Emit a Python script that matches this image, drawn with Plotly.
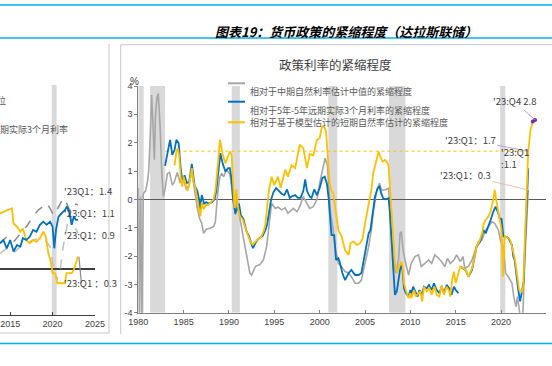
import plotly.graph_objects as go

W, H = 552, 366
def PX(x): return x / W
def PY(y): return 1 - y / H

# ---------------- right chart data ----------------
gray_year = [1980.0,1980.12,1980.25,1980.4,1980.55,1980.8,1981.0,1981.15,1981.3,1981.47,1981.6,1981.77,1981.9,1982.06,1982.2,1982.4,1982.6,1982.76,1982.95,1983.2,1983.45,1983.75,1983.95,1984.3,1984.6,1985.0,1985.3,1985.6,1985.9,1986.2,1986.5,1986.75,1987.0,1987.2,1987.5,1987.9,1988.3,1988.5,1988.75,1989.0,1989.2,1989.4,1989.7,1990.1,1990.5,1990.7,1990.85,1991.2,1991.6,1991.95,1992.3,1992.5,1992.9,1993.4,1993.8,1994.15,1994.5,1994.7,1995.1,1995.4,1995.8,1996.2,1996.5,1997.1,1997.5,1997.8,1998.2,1998.6,1998.9,1999.3,1999.7,2000.0,2000.3,2000.6,2000.85,2001.0,2001.2,2001.45,2001.7,2002.06,2002.4,2002.8,2003.2,2003.5,2003.9,2004.3,2004.6,2005.0,2005.4,2005.7,2005.9,2006.3,2006.6,2006.8,2007.2,2007.6,2007.75,2007.9,2008.1,2008.4,2008.7,2008.86,2009.0,2009.2,2009.4,2009.8,2010.1,2010.5,2010.9,2011.2,2011.6,2012.0,2012.35,2012.7,2013.1,2013.45,2013.8,2014.1,2014.4,2014.8,2015.1,2015.5,2015.8,2016.0,2016.4,2016.8,2017.1,2017.5,2017.9,2018.2,2018.6,2019.0,2019.3,2019.7,2019.96,2020.25,2020.5,2020.8,2021.2,2021.4,2021.65,2021.8,2022.1,2022.4,2022.6,2022.85,2023.0]
gray_val = [0.4,-4.1,0.1,-4.1,0.2,0.3,0.6,1.0,2.1,3.68,2.8,1.4,3.0,3.6,3.74,2.6,0.9,0.1,0.35,0.9,0.95,0.5,0.6,0.95,0.6,0.7,0.35,0.5,1.0,0.3,-0.3,-0.67,-0.85,-1.2,-1.05,-1.02,-0.96,-0.8,0.2,0.8,0.92,0.8,1.04,0.9,0.0,-0.55,-0.05,-0.67,-1.3,-1.9,-2.6,-2.67,-2.37,-2.3,-2.14,-1.67,-0.73,-0.14,-0.32,-0.27,-0.37,-0.3,-0.49,-0.32,-0.44,-0.26,0.1,-0.14,-0.32,-0.26,0.0,0.57,1.04,1.45,1.2,0.4,-0.5,-1.0,-1.67,-2.26,-2.37,-2.55,-2.6,-2.73,-2.96,-2.96,-2.85,-2.26,-1.67,-1.08,-0.49,0.33,0.57,0.33,0.33,0.39,-0.5,-1.2,-2.02,-2.6,-2.14,-1.2,-1.14,-1.8,-2.14,-2.67,-2.26,-2.02,-1.96,-2.37,-2.26,-2.14,-2.26,-1.96,-2.08,-2.2,-2.37,-2.08,-2.26,-2.14,-1.96,-2.2,-2.02,-2.43,-2.37,-2.14,-1.85,-1.49,-1.43,-1.14,-0.96,-0.79,-0.85,-1.08,-1.49,-1.67,-2.6,-2.73,-2.96,-3.43,-3.79,-3.43,-4.1,-4.1,-2.26,-0.85,0.33]

blue_year = [1982.95,1983.2,1983.5,1983.75,1984.0,1984.2,1984.45,1984.7,1984.9,1985.1,1985.35,1985.6,1985.9,1986.2,1986.5,1986.7,1986.8,1987.0,1987.25,1987.5,1987.8,1988.1,1988.4,1988.6,1988.75,1988.9,1989.05,1989.3,1989.6,1989.9,1990.1,1990.3,1990.45,1990.7,1990.9,1991.1,1991.3,1991.6,1991.9,1992.2,1992.4,1992.65,1992.9,1993.1,1993.4,1993.7,1994.0,1994.2,1994.45,1994.65,1994.9,1995.2,1995.5,1995.8,1996.1,1996.4,1996.7,1996.9,1997.3,1997.6,1997.9,1998.2,1998.4,1998.6,1998.9,1999.1,1999.4,1999.7,2000.0,2000.3,2000.55,2000.8,2001.0,2001.15,2001.3,2001.6,2001.8,2002.06,2002.2,2002.5,2002.8,2003.2,2003.5,2003.9,2004.3,2004.6,2004.8,2005.1,2005.4,2005.6,2005.85,2006.1,2006.4,2006.6,2006.8,2007.0,2007.3,2007.6,2007.75,2007.9,2008.1,2008.3,2008.5,2008.75,2008.97,2009.15,2009.3,2009.5,2009.8,2010.0,2010.1,2010.3,2010.6,2010.8,2011.0,2011.25,2011.5,2011.8,2012.05,2012.35,2012.6,2012.9,2013.2,2013.45,2013.7,2014.0,2014.3,2014.55,2014.8,2015.0,2015.3,None,2015.5,2015.85,2016.1,2016.4,2016.8,2017.1,2017.3,2017.7,2018.05,2018.3,2018.6,2018.85,2019.15,2019.4,2019.7,2019.9,2020.05,2020.25,2020.6,2020.8,2021.2,2021.35,2021.5,2021.7,2021.9,2022.1,2022.3,2022.5,2022.65,2022.8,2023.0]
blue_val = [1.18,1.63,2.1,1.57,1.75,2.1,1.98,1.0,0.6,0.85,0.58,0.6,1.25,0.5,0.3,0.0,-0.35,0.15,-0.15,-0.1,-0.15,-0.1,0.0,0.3,0.8,1.3,1.63,1.27,0.98,1.1,1.1,0.7,0.0,-0.5,-0.3,-0.15,-0.55,-0.7,-1.1,-1.3,-1.5,-1.72,-1.55,-1.45,-1.35,-1.3,-1.1,-0.9,-0.4,0.0,0.25,0.4,0.3,0.2,0.15,0.35,0.05,0.1,0.15,0.05,0.05,0.3,0.7,0.3,0.1,0.05,0.35,0.15,0.4,0.75,0.8,0.55,0.0,-0.73,-1.26,-1.26,-2.14,-2.08,-2.2,-2.6,-2.85,-2.6,-2.49,-2.67,-2.67,-2.6,-2.26,-1.67,-1.2,-1.08,-0.49,0.1,0.39,0.45,0.2,0.04,0.0,0.04,-0.5,-1.43,-2.37,-3.37,-3.25,-2.73,-2.26,-2.55,-3.14,-3.31,-3.43,-3.2,-3.37,-3.08,-3.31,-3.43,-3.2,-3.37,-3.08,-3.14,-3.02,-3.2,-2.96,-3.2,-3.31,-3.08,-3.31,-3.02,-3.14,-3.37,-3.08,-3.2,-3.31,None,-2.37,-2.45,-2.5,-2.73,-2.49,-2.0,-1.67,-1.49,-1.08,-1.2,-0.96,-0.73,-0.43,-0.26,-0.49,-0.73,-0.67,-1.3,-1.32,-1.37,-1.61,-2.02,-2.14,-2.73,-3.2,-3.6,-3.2,-2.9,-1.5,-0.4,1.1]

yellow_year = [1984.0,1984.2,1984.35,1984.5,1984.7,1984.85,1985.0,1985.2,1985.4,1985.6,1985.9,1986.1,1986.3,1986.5,1986.7,1986.85,1987.0,1987.2,1987.45,1987.7,1988.0,1988.3,1988.5,1988.7,1988.85,1989.0,1989.3,1989.6,1989.9,1990.1,1990.3,1990.45,1990.6,1990.8,1991.0,1991.2,1991.5,1991.8,1992.1,1992.35,1992.6,1992.9,1993.2,1993.5,1993.8,1994.0,1994.2,1994.4,1994.7,1995.0,1995.4,1995.7,1996.2,1996.5,1996.9,1997.3,1997.8,1998.2,1998.6,1998.9,1999.3,1999.7,2000.0,2000.2,2000.4,2000.7,2000.9,2001.1,2001.3,2001.5,2001.7,2002.06,2002.4,2002.8,2003.2,2003.4,2003.7,2004.1,2004.45,2004.75,2005.0,2005.3,2005.55,2005.7,2005.9,2006.3,2006.5,2006.7,2006.95,2007.2,2007.5,2007.6,2007.75,2007.9,2008.1,2008.3,2008.5,2008.75,2009.0,2009.15,2009.3,2009.5,2009.8,2010.0,2010.1,2010.4,2010.6,2010.9,2011.1,2011.3,2011.5,2011.8,2012.1,2012.35,2012.65,2012.9,2013.2,2013.45,2013.7,2014.0,2014.3,2014.4,2014.6,2014.8,2015.0,2015.3,2015.5,2015.85,2016.1,2016.4,2016.8,2017.0,2017.3,2017.6,2017.9,2018.1,2018.3,2018.6,2018.85,2019.15,2019.3,2019.5,2019.7,2019.9,2020.05,2020.2,2020.4,2020.8,2021.0,2021.3,2021.55,2021.8,2022.0,2022.3,2022.45,2022.6,2022.8,2023.0,2023.25,2023.5,2023.75]
yellow_val = [1.2,1.7,1.8,1.55,0.7,0.45,0.8,0.55,0.3,0.5,1.1,0.6,0.4,0.0,-0.3,-0.6,-0.1,-0.35,-0.2,-0.2,-0.1,0.0,0.3,0.9,1.5,2.1,1.6,1.27,1.57,1.69,1.55,0.6,-0.3,0.35,-0.3,-0.6,-0.7,-1.0,-1.3,-1.5,-1.6,-1.5,-1.4,-1.35,-1.15,-0.9,-0.4,0.3,0.8,0.5,0.8,0.4,1.05,0.8,1.2,1.1,1.93,1.8,1.1,1.6,1.55,2.1,2.16,2.5,2.6,2.4,1.5,0.57,0.3,0.2,-0.26,-1.08,-1.3,-1.79,-1.96,-1.55,-1.49,-1.61,-1.55,-1.37,-0.85,-0.37,0.0,0.33,0.92,1.5,1.69,1.5,1.33,1.39,1.28,1.16,0.33,-0.5,-1.43,-2.26,-2.6,-2.37,-2.2,-2.37,-2.96,-3.2,-3.49,-3.31,-3.49,-3.2,-3.43,-3.31,-3.25,-3.61,-3.08,-3.25,-3.14,-3.37,-3.08,-3.37,-3.43,-3.02,-3.37,-3.08,-3.25,-3.43,-2.85,-2.55,-2.96,-2.6,-2.37,-2.43,-2.49,-2.73,-2.43,-2.14,-1.67,-1.49,-1.2,-0.85,-0.73,-0.61,-0.43,0.0,0.33,-0.08,-0.43,-0.73,-1.08,-2.73,-1.3,-1.37,-1.43,-1.79,-2.14,-2.73,-3.2,-3.26,-3.08,-1.67,-0.26,1.7,2.45,2.75,2.8]

recessions = [(1980.0, 1980.6), (1981.3, 1982.95), (1990.3, 1991.2),
              (2000.95, 2001.95), (2007.65, 2009.45), (2019.9, 2020.47)]
ref_level = 1.7
x_ticks = [1980, 1985, 1990, 1995, 2000, 2005, 2010, 2015, 2020, 2025]
y_ticks = [4, 3, 2, 1, 0, -1, -2, -3, -4]

series_names = ["相对于中期自然利率估计中值的紧缩程度",
                "相对于5年-5年远期实际3个月利率的紧缩程度",
                "相对于基于模型估计的短期自然率估计的紧缩程度"]

# ---------------- left (cropped) chart data ----------------
l_year = [2013.8,2014.2,2014.6,2015.0,2015.4,2015.8,2016.2,2016.5,2016.9,2017.3,2017.7,2018.1,2018.5,2018.9,2019.3,2019.7,2020.0,2020.2,2020.4,2020.7,2021.05,2021.45,2021.7,2022.0,2022.25,2022.5,2022.75,2023.0]
l_blue = [0.56,0.63,0.45,0.63,0.38,0.52,0.49,0.67,0.63,0.7,0.85,0.81,0.96,1.03,0.96,1.03,0.92,0.45,0.85,1.14,1.21,1.28,1.36,1.21,0.96,1.14,1.07,1.07]
ly_year = [2013.8,2014.6,2015.2,2015.4,2015.8,2016.2,2016.5,2016.9,2017.3,2017.7,2018.1,2018.5,2018.9,2019.2,2019.5,2019.8,2020.0,2020.3,2020.55,2020.86,2021.45,2021.65,2022.25,2022.5,2022.75,2023.0]
l_yellow = [1.21,1.28,1.32,0.99,0.92,0.81,0.88,0.63,0.56,0.63,0.59,0.67,0.81,0.7,0.34,0.16,-0.09,-0.09,-0.31,-0.31,-0.31,-0.09,-0.09,-0.02,0.12,0.27]
lg_year = [2013.8,2014.6,2015.4,2016.2,2016.9,2017.7,2018.3,2018.9,2019.3,2019.7,2020.1,2020.5,2020.9,2021.25,2021.65,2022.0,2022.4,2023.0]
l_gray_hi = [0.56,0.7,0.59,0.78,0.92,1.14,1.28,1.36,1.43,1.32,1.17,1.28,1.43,1.54,1.43,1.28,1.43,1.39]
lg2_year = [2013.8,2014.6,2015.4,2016.2,2016.9,2017.7,2018.5,2019.1,2019.7,2020.1,2020.5,2020.9,2021.25,2021.65,2022.0,2022.4,2023.0]
l_gray_lo = [0.34,0.45,0.34,0.49,0.56,0.63,0.67,0.63,0.49,0.05,-0.24,-0.02,0.49,0.92,1.21,0.99,0.78]
lgs_year = [2023.1, 2023.4]
l_gray_solid = [0.27, -0.31]
l_recession = (2019.9, 2020.47)
l_ticks = [2015, 2020, 2025]

C_GRAY, C_BLUE, C_YEL = "#a6a6a6", "#0070c0", "#ffc000"
CJK = "Noto Sans CJK SC"
LAT = "Liberation Sans"

fig = go.Figure()
fig.add_trace(go.Scatter(x=gray_year, y=gray_val, mode="lines", name=series_names[0],
                         line=dict(color=C_GRAY, width=1.6), xaxis="x", yaxis="y"))
fig.add_trace(go.Scatter(x=blue_year, y=blue_val, mode="lines", name=series_names[1],
                         line=dict(color=C_BLUE, width=1.8), connectgaps=False, xaxis="x", yaxis="y"))
fig.add_trace(go.Scatter(x=yellow_year, y=yellow_val, mode="lines", name=series_names[2],
                         line=dict(color=C_YEL, width=1.8), xaxis="x", yaxis="y"))
fig.add_trace(go.Scatter(x=yellow_year[-2:], y=yellow_val[-2:], mode="markers",
                         marker=dict(color="#7030a0", size=4), xaxis="x", yaxis="y"))

# left chart
fig.add_trace(go.Scatter(x=lg2_year, y=l_gray_lo, mode="lines",
                         line=dict(color="#bfbfbf", width=1.5, dash="dash"), xaxis="x2", yaxis="y2"))
fig.add_trace(go.Scatter(x=lg_year, y=l_gray_hi, mode="lines",
                         line=dict(color="#8c8c8c", width=1.5, dash="dash"), xaxis="x2", yaxis="y2"))
fig.add_trace(go.Scatter(x=lgs_year, y=l_gray_solid, mode="lines",
                         line=dict(color="#8c8c8c", width=1.2), xaxis="x2", yaxis="y2"))
fig.add_trace(go.Scatter(x=ly_year, y=l_yellow, mode="lines",
                         line=dict(color=C_YEL, width=1.8), xaxis="x2", yaxis="y2"))
fig.add_trace(go.Scatter(x=l_year, y=l_blue, mode="lines",
                         line=dict(color=C_BLUE, width=1.8), xaxis="x2", yaxis="y2"))

shapes = []
for a, b in recessions:
    shapes.append(dict(type="rect", xref="x", yref="y", x0=a, x1=b, y0=-4, y1=4,
                       fillcolor="#d9d9d9", line=dict(width=0), layer="below"))
shapes.append(dict(type="rect", xref="x2", yref="y2", x0=l_recession[0], x1=l_recession[1],
                   y0=-1, y1=4, fillcolor="#d9d9d9", line=dict(width=0), layer="below"))
shapes.append(dict(type="line", xref="x", yref="y", x0=1983, x1=2023, y0=ref_level, y1=ref_level,
                   line=dict(color="#ffc000", width=1, dash="dot"), layer="below"))
# frames
LB = "#00b0f0"
shapes += [
    dict(type="line", xref="paper", yref="paper", x0=0, x1=1, y0=PY(5), y1=PY(5), line=dict(color=LB, width=1.5)),
    dict(type="line", xref="paper", yref="paper", x0=0, x1=1, y0=PY(38), y1=PY(38), line=dict(color=LB, width=1.5)),
    dict(type="line", xref="paper", yref="paper", x0=0, x1=1, y0=PY(343.5), y1=PY(343.5), line=dict(color=LB, width=1.5)),
    dict(type="line", xref="paper", yref="paper", x0=PX(120.7), x1=1, y0=PY(44.7), y1=PY(44.7), line=dict(color="#c8c8c8", width=1)),
    dict(type="line", xref="paper", yref="paper", x0=PX(120.7), x1=PX(120.7), y0=PY(44.7), y1=PY(334), line=dict(color="#c8c8c8", width=1)),
    dict(type="line", xref="paper", yref="paper", x0=PX(109), x1=PX(109), y0=PY(44), y1=PY(333), line=dict(color="#c8c8c8", width=1)),
    dict(type="line", xref="paper", yref="paper", x0=0, x1=PX(109), y0=PY(333), y1=PY(333), line=dict(color="#c8c8c8", width=1)),
]
# legend samples
for yy, col in zip([83.3, 101.7, 122.3], [C_GRAY, C_BLUE, C_YEL]):
    shapes.append(dict(type="line", xref="paper", yref="paper", x0=PX(228), x1=PX(245),
                       y0=PY(yy), y1=PY(yy), line=dict(color=col, width=2)))

ann = []
ann.append(dict(xref="paper", yref="paper", x=PX(346), y=PY(20), showarrow=False,
                text="<b><i>图表19：货币政策的紧缩程度（达拉斯联储）</i></b>",
                font=dict(family=CJK, size=13, color="#000000")))
ann.append(dict(xref="paper", yref="paper", x=PX(335), y=PY(53), showarrow=False,
                text="政策利率的紧缩程度", font=dict(family=CJK, size=12.5, color="#404040")))
ann.append(dict(xref="paper", yref="paper", x=PX(128), y=PY(74), showarrow=False,
                text="%", font=dict(family=LAT, size=10, color="#404040")))
for yy, name in zip([83.3, 101.7, 122.3], series_names):
    ann.append(dict(xref="paper", yref="paper", x=PX(248), y=PY(yy), xanchor="left", showarrow=False,
                    text=name, font=dict(family=CJK, size=9, color="#595959")))

lab_font = dict(family=CJK, size=9.5, color="#404040")
ann.append(dict(xref="x", yref="y", x=yellow_year[-1], y=yellow_val[-1], ax=-21, ay=-19,
                text="'23:Q4 2.8", showarrow=True, arrowhead=0, arrowwidth=0.8,
                arrowcolor="#9b8fcf", font=lab_font))
ann.append(dict(xref="x", yref="y", x=2023.0, y=ref_level, ax=-58, ay=-11,
                text="'23:Q1：1.7", showarrow=True, arrowhead=0, arrowwidth=0.8,
                arrowcolor="#9b8fcf", font=lab_font))
ann.append(dict(xref="x", yref="y", x=blue_year[-1], y=blue_val[-1], xanchor="left", align="left",
                xshift=-29, yshift=10, text="'23:Q1<br>:1.1", showarrow=False, font=lab_font))
ann.append(dict(xref="x", yref="y", x=gray_year[-1], y=gray_val[-1], ax=-63, ay=-15,
                text="'23:Q1：0.3", showarrow=True, arrowhead=0, arrowwidth=0.8,
                arrowcolor="#f4b183", font=lab_font))

# left chart texts
for yy, t in zip([190.7, 213, 235, 292], ["'23Q1：1.4", "'23:Q1：1.1", "'23:Q1：0.9", "'23:Q1 ：0.3"]):
    ann.append(dict(xref="paper", yref="paper", x=PX(62), y=PY(yy), xanchor="left",
                    showarrow=False, text=t, font=lab_font))
ann.append(dict(xref="paper", yref="paper", x=PX(7.5), y=PY(92.3), xanchor="right",
                showarrow=False, text="中位", font=dict(family=CJK, size=9, color="#595959")))
ann.append(dict(xref="paper", yref="paper", x=PX(70), y=PY(129.3), xanchor="right",
                showarrow=False, text="5年远期实际3个月利率", font=dict(family=CJK, size=9, color="#595959")))

tick_font = dict(family=LAT, size=9, color="#404040")
fig.update_layout(
    width=W, height=H, margin=dict(l=0, r=0, t=0, b=0, pad=0, autoexpand=False),
    paper_bgcolor="white", plot_bgcolor="white", showlegend=False,
    shapes=shapes, annotations=ann,
    xaxis=dict(domain=[PX(138.3), PX(546.4)], range=[1980, 2025], tickvals=x_ticks,
               ticktext=[str(v) for v in x_ticks], ticks="inside", ticklen=3, tickcolor="#808080",
               showline=True, linecolor="#808080", linewidth=1, showgrid=False, zeroline=False,
               tickfont=tick_font, anchor="y", automargin=False),
    yaxis=dict(domain=[PY(312.7), PY(86)], range=[-4, 4], tickvals=y_ticks,
               ticktext=[str(v) for v in y_ticks], ticks="outside", ticklen=3, tickcolor="#808080",
               showline=True, linecolor="#808080", linewidth=1, showgrid=False,
               zeroline=True, zerolinecolor="#595959", zerolinewidth=1.5,
               tickfont=tick_font, anchor="x", automargin=False),
    xaxis2=dict(domain=[0, PX(95)], range=[2013.8, 2025], tickvals=l_ticks,
                ticktext=[str(v) for v in l_ticks], ticks="inside", ticklen=3, tickcolor="#404040",
                showline=True, linecolor="#404040", linewidth=1, showgrid=False, zeroline=False,
                tickfont=tick_font, anchor="y2", automargin=False),
    yaxis2=dict(domain=[PY(315), PY(85)], range=[-1, 4], showticklabels=False, ticks="",
                showline=False, showgrid=False, zeroline=True, zerolinecolor="#404040",
                zerolinewidth=1.2, anchor="x2", automargin=False),
)

fig.write_html("out.html", config={"staticPlot": True, "displayModeBar": False},
               post_script="document.body.style.margin='0';document.body.style.overflow='hidden';")
